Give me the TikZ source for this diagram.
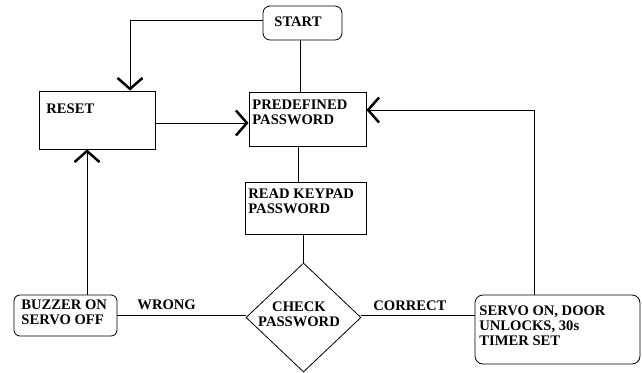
\documentclass[tikz,border=0pt]{standalone}
\usepackage{fontspec}
\setmainfont{Liberation Serif}
\usetikzlibrary{arrows.meta,shapes.geometric}
\begin{document}
\begin{tikzpicture}[x=1pt,y=-1pt,
  line width=0.8pt,
  box/.style={draw, rectangle, inner sep=0pt},
  rbox/.style={box, rounded corners=7pt},
  lbl/.style={font=\fontsize{14.6}{15.2}\selectfont\bfseries, inner sep=0pt, align=left},
  arr/.style={-{Straight Barb[length=11pt,width=25pt,line width=2.5pt]}},
]
\useasboundingbox (0,0) rectangle (642,372);
% boxes
\node[rbox, minimum width=79, minimum height=34] (start) at (302.5,23) {};
\node[box, minimum width=116, minimum height=58] (reset) at (97,120) {};
\node[box, minimum width=117, minimum height=54] (pre) at (307.5,119) {};
\node[box, minimum width=121, minimum height=52] (read) at (305.5,208) {};
\node[draw, diamond, minimum width=115, minimum height=109, inner sep=0pt] (chk) at (303.5,317.5) {};
\node[rbox, rounded corners=6pt, minimum width=103, minimum height=41] (buzz) at (65.5,315.5) {};
\node[rbox, rounded corners=8pt, minimum width=165, minimum height=69] (serv) at (557.5,329.5) {};
% texts
\node[lbl, anchor=base west] (startT) at (274,26) {START};
\node[lbl, anchor=base west] (resetT) at (46,113) {RESET};
\node[lbl, anchor=north west] (preT) at (252,99.5) {PREDEFINED\\PASSWORD};
\node[lbl, anchor=north west] (readT) at (248,188.5) {READ KEYPAD\\PASSWORD};
\node[lbl, anchor=north west] (buzzT) at (21,299.5) {BUZZER ON\\SERVO OFF};
\node[lbl, anchor=north, align=center] (chkT) at (299,301.5) {CHECK\\PASSWORD};
\node[lbl, anchor=north west] (servT) at (479,305.5) {SERVO ON, DOOR\\UNLOCKS, 30s\\TIMER SET};
\node[lbl, anchor=base west] (wrong) at (137,309) {WRONG};
\node[lbl, anchor=base west] (correct) at (373,310) {CORRECT};
% connectors
\draw[arr] ([yshift=3]start.west) -| ([xshift=33]reset.north);
\draw ([xshift=-2.5]start.south) -- ([xshift=-2.5]start.south |- pre.north);
\draw[arr] ([yshift=-3]reset.east) -- ([yshift=-3]reset.east -| pre.west);
\draw ([xshift=-9.5]pre.south) -- ([xshift=-9.5]pre.south |- read.north);
\draw (read.south -| chk.north) -- (chk.north);
\draw[arr] ([xshift=21.5]buzz.north) -- ([xshift=21.5]buzz.north |- reset.south);
\draw ([yshift=2.5]chk.west) -- ([yshift=2.5]chk.west -| buzz.east);
\draw ([yshift=2.5]chk.east) -- ([yshift=2.5]chk.east -| serv.west);
\draw[arr] ([xshift=-23.5]serv.north) |- ([yshift=9]pre.east);
\end{tikzpicture}
\end{document}
